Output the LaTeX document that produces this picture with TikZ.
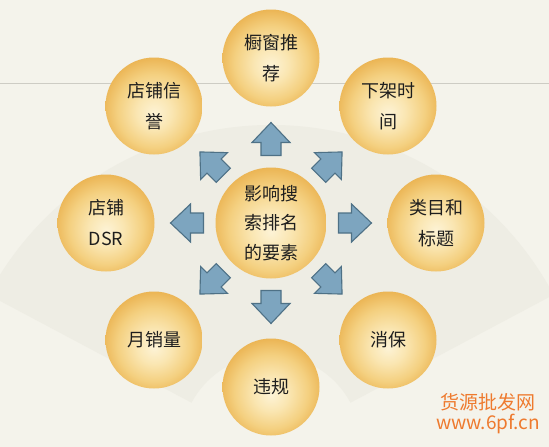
\documentclass[tikz,border=0pt]{standalone}
\usepackage{fontspec}
\usetikzlibrary{calc}
\setmainfont{Noto Sans CJK SC}
\newfontfamily\cjk{Noto Sans CJK SC}
\definecolor{bg}{HTML}{F4F3EB}
\definecolor{fanc}{HTML}{E6E4DA}
\definecolor{orbA}{HTML}{FDF3D6}
\definecolor{orbB}{HTML}{FAE6B2}
\definecolor{orbC}{HTML}{F4D080}
\definecolor{orbD}{HTML}{EAB14E}
\definecolor{arrowfill}{HTML}{7DA5BF}
\definecolor{arrowline}{HTML}{4E7186}
\definecolor{txt}{HTML}{1E1E1E}
\definecolor{wm}{HTML}{EE7A2E}
\definecolor{hline}{HTML}{CDCCC4}
\pgfdeclareradialshading{orb}{\pgfpoint{0bp}{-4bp}}{color(0bp)=(orbA); color(9bp)=(orbB); color(19bp)=(orbC); color(28bp)=(orbD); color(50bp)=(orbD)}
\tikzset{
  orbnode/.style={circle, shade, shading=orb, minimum size=97pt, inner sep=0pt, align=center, text=txt, font=\cjk\fontsize{18}{31}\selectfont},
  centernode/.style={orbnode, minimum size=111pt, font=\cjk\fontsize{18}{29.5}\selectfont},
  barrowstyle/.style={fill=arrowfill, draw=arrowline, line width=1.1pt, line join=miter},
  barrow/.pic={\path[barrowstyle] (-10,16.5) -- (-10,3.5) -- (-19,3.5) -- (0,-16.5) -- (19,3.5) -- (10,3.5) -- (10,16.5) -- cycle;},
  wmtext/.style={text=wm, inner sep=0pt, font=\cjk\fontsize{19}{19}\selectfont}
}
\begin{document}
\begin{tikzpicture}[x=1pt, y=-1pt]
\useasboundingbox (0,0) rectangle (549,447);
\fill[bg] (0,0) rectangle (549,447);
% faint fan in the background
\coordinate (fc) at (271,445);
\fill[fanc, opacity=0.4] ($(fc)+(-152:320)$) arc[start angle=-152, end angle=-28, radius=320] -- ($(fc)+(-28:90)$) arc[start angle=-28, end angle=-152, radius=90] -- cycle;
\draw[hline, line width=0.8pt] (0,83) -- (549,83);
% arrows
\pic at (271,139) {barrow};
\pic[rotate=-45] at (330.4,163.6) {barrow};
\pic[rotate=-90] at (355,223) {barrow};
\pic[rotate=-135] at (330.4,282.4) {barrow};
\pic[rotate=180] at (271,307) {barrow};
\pic[rotate=135] at (211.6,282.4) {barrow};
\pic[rotate=90] at (187,223) {barrow};
\pic[rotate=45] at (211.6,163.6) {barrow};
% circles
\node[centernode] (c) at (271,223) {影响搜\\索排名\\的要素};
\node[orbnode] (n1) at (271,58) {橱窗推\\荐};
\node[orbnode] (n2) at (388,106) {下架时\\间};
\node[orbnode] (n3) at (436,223) {类目和\\标题};
\node[orbnode] (n4) at (388,340) {消保};
\node[orbnode] (n5) at (271,387) {违规};
\node[orbnode] (n6) at (154,340) {月销量};
\node[orbnode] (n7) at (106,223) {店铺\\DSR};
\node[orbnode] (n8) at (154,106) {店铺信\\誉};
% watermark
\node[wmtext] (w1) at (488,402) {货源批发网};
\node[wmtext] (w2) at (488,424) {www.6pf.cn};
\end{tikzpicture}
\end{document}
